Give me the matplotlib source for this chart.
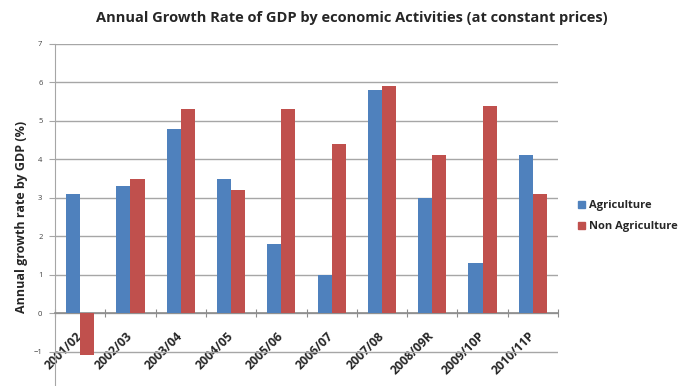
import matplotlib
matplotlib.use("Agg")
import matplotlib.pyplot as plt
import numpy as np
from matplotlib.patches import Patch

years = ["2001/02", "2002/03", "2003/04", "2004/05", "2005/06",
         "2006/07", "2007/08", "2008/09R", "2009/10P", "2010/11P"]
agriculture = [3.1, 3.3, 4.8, 3.5, 1.8, 1.0, 5.8, 3.0, 1.3, 4.1]
non_agriculture = [-1.1, 3.5, 5.3, 3.2, 5.3, 4.4, 5.9, 4.1, 5.4, 3.1]

BLUE = "#4F81BD"
RED = "#C0504D"
GRID = "#A6A6A6"
FONT = "Open Sans"

W, H = 685, 386
fig = plt.figure(figsize=(W / 100, H / 100), dpi=100)

# plot area in pixels: x 55..558, y 44..390 (runs off the bottom edge)
left, right, top, bottom = 55, 558, 44, 390
ax = fig.add_axes([left / W, (H - bottom) / H, (right - left) / W, (bottom - top) / H])

x = np.arange(len(years))
bw = 0.28
ax.bar(x - bw / 2, agriculture, bw, color=BLUE, label="Agriculture", zorder=3)
ax.bar(x + bw / 2, non_agriculture, bw, color=RED, label="Non Agriculture", zorder=3)

ax.set_xlim(-0.5, len(years) - 0.5)
ax.set_ylim(-2, 7)
ax.set_yticks(range(-2, 8))
ax.yaxis.grid(True, color=GRID, linewidth=1.0, zorder=0)

for s in ("top", "right"):
    ax.spines[s].set_visible(False)
ax.spines["left"].set_color(GRID)
ax.spines["bottom"].set_position(("data", 0))
ax.spines["bottom"].set_color("#8C8C8C")
ax.spines["bottom"].set_linewidth(1.2)

ax.tick_params(axis="y", length=4, color=GRID, labelsize=5.5, labelcolor="#404040", pad=5)
for lab in ax.get_yticklabels():
    lab.set_fontfamily(FONT)

# category boundary ticks on the zero line, labels at category centres
ax.set_xticks(np.arange(len(years) + 1) - 0.5)
ax.set_xticklabels([])
ax.set_xticks(x, minor=True)
ax.set_xticklabels(years, minor=True, rotation=45, ha="right", va="center",
                   rotation_mode="anchor", fontsize=8.8, fontweight="bold",
                   fontfamily=FONT, color="#262626")
ax.tick_params(axis="x", which="major", direction="inout", length=6, color="#8C8C8C")
ax.tick_params(axis="x", which="minor", length=0, pad=15)

ax.set_ylabel("Annual growth rate by GDP (%)", fontsize=9, fontweight="bold",
              fontfamily=FONT, color="#262626", labelpad=4)

fig.text(352 / W, 1 - 18 / H,
         "Annual Growth Rate of GDP by economic Activities (at constant prices)",
         ha="center", va="center", fontsize=10.5, fontweight="bold",
         fontfamily=FONT, color="#262626")

handles = [Patch(color=BLUE, label="Agriculture"),
           Patch(color=RED, label="Non Agriculture")]
fig.legend(handles=handles, loc="center left", bbox_to_anchor=(568 / W, 1 - 216 / H),
           frameon=False, prop={"family": FONT, "weight": "bold", "size": 8},
           handlelength=0.6, handleheight=0.6, handletextpad=0.4, labelspacing=0.9,
           labelcolor="#262626")

fig.savefig("out.png", dpi=100)
